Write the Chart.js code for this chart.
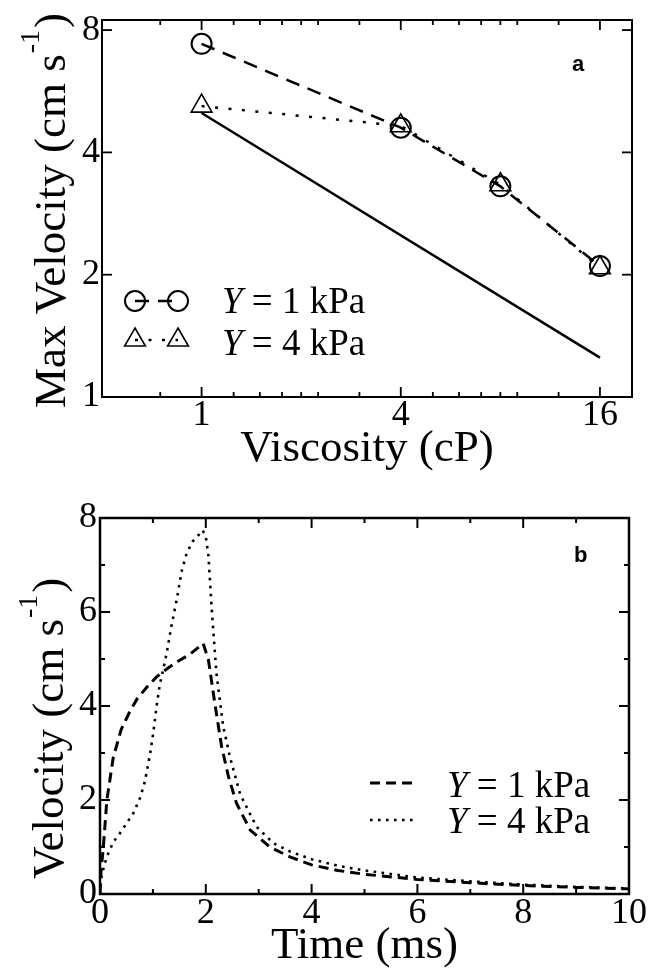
<!DOCTYPE html>
<html><head><meta charset="utf-8">
<script src="https://cdn.jsdelivr.net/npm/chart.js@4/dist/chart.umd.min.js"></script>
<style>
html,body{margin:0;padding:0;background:#fff;width:661px;height:969px;overflow:hidden}
canvas{position:absolute;left:0}
#c1{top:0;width:661px;height:480px}
#c2{top:480px;width:661px;height:489px}
</style></head><body>
<canvas id="c1" width="661" height="480"></canvas>
<canvas id="c2" width="661" height="489"></canvas>
<script>
// ---------- Panel a data ----------
const viscosity = [1, 4, 8, 16];
const maxVelY1 = [7.4, 4.6, 3.3, 2.1];
const maxVelY4 = [5.2, 4.65, 3.33, 2.08];
const scalingX = [1, 16];
const scalingY = [5.0, 1.25];
const seriesLabels = ['Y = 1 kPa', 'Y = 4 kPa'];
const topXMajor = [1, 4, 16];
const topXMinor = [0.75, 1.25, 1.5, 1.75, 2, 2.25, 3, 5, 6, 7, 8, 9, 12];
const topYMajor = [1, 2, 4, 8];

// ---------- Panel b data ----------
const timeY1 = [0, 0.02, 0.06, 0.13, 0.25, 0.4, 0.55, 0.7, 0.9, 1.07, 1.3, 1.5, 1.7, 1.95, 2.05, 2.17, 2.3, 2.43, 2.58, 2.84, 3.21, 3.59, 4.0, 4.5, 5.0, 6.0, 7.0, 8.0, 9.0, 10.0];
const velY1  = [0, 0.5, 0.95, 2.0, 2.9, 3.5, 3.85, 4.15, 4.42, 4.62, 4.82, 4.97, 5.1, 5.33, 4.98, 4.06, 3.13, 2.49, 1.93, 1.36, 1.0, 0.79, 0.62, 0.5, 0.42, 0.31, 0.24, 0.18, 0.14, 0.11];
const timeY4 = [0, 0.03, 0.13, 0.25, 0.38, 0.5, 0.63, 0.76, 0.85, 0.95, 1.01, 1.07, 1.13, 1.2, 1.26, 1.35, 1.45, 1.55, 1.64, 1.75, 1.85, 1.94, 2.0, 2.05, 2.11, 2.2, 2.33, 2.46, 2.65, 2.96, 3.28, 3.6, 4.0, 4.5, 5.0, 6.0, 7.0, 8.0, 9.0, 10.0];
const velY4  = [0, 0.4, 0.8, 1.1, 1.3, 1.5, 1.72, 2.05, 2.4, 3.0, 3.45, 4.0, 4.45, 4.8, 5.12, 5.7, 6.26, 6.9, 7.25, 7.5, 7.62, 7.74, 7.6, 7.2, 6.1, 4.7, 3.56, 2.9, 2.12, 1.43, 1.08, 0.9, 0.74, 0.6, 0.5, 0.35, 0.27, 0.2, 0.15, 0.12];
const botXMajor = [0, 2, 4, 6, 8, 10];
const botXMinor = [1, 3, 5, 7, 9];
const botYMajor = [0, 2, 4, 6, 8];
const botYMinor = [1, 3, 5, 7];

const SERIF = '"Liberation Serif", "Times New Roman", serif';
const SANS = '"Liberation Sans", Arial, sans-serif';

function line(ctx, x1, y1, x2, y2) { ctx.beginPath(); ctx.moveTo(x1, y1); ctx.lineTo(x2, y2); ctx.stroke(); }

function framePlugin(cfg) {
  return {
    id: 'frame_' + cfg.name,
    afterDraw(chart) {
      const { ctx, chartArea: a, scales: { x, y } } = chart;
      ctx.save();
      ctx.strokeStyle = '#000';
      ctx.setLineDash([]);
      ctx.lineWidth = cfg.tickWidth;
      const tk = (vals, len, sides) => {
        for (const v of vals) {
          if (sides === 'x') {
            const px = x.getPixelForValue(v);
            line(ctx, px, a.bottom, px, a.bottom - len);
            line(ctx, px, a.top, px, a.top + len);
          } else {
            const py = y.getPixelForValue(v);
            line(ctx, a.left, py, a.left + len, py);
            line(ctx, a.right, py, a.right - len, py);
          }
        }
      };
      tk(cfg.xMajor, 10, 'x'); tk(cfg.xMinor, 5, 'x');
      tk(cfg.yMajor, 10, 'y'); tk(cfg.yMinor, 5, 'y');
      ctx.lineWidth = cfg.frameWidth;
      ctx.strokeRect(a.left, a.top, a.right - a.left, a.bottom - a.top);
      // panel letter
      ctx.fillStyle = '#000';
      ctx.font = 'bold 22px ' + SANS;
      ctx.textBaseline = 'alphabetic';
      ctx.textAlign = 'left';
      ctx.fillText(cfg.letter, cfg.letterX, cfg.letterY);
      // y title with superscript
      ctx.save();
      ctx.translate(cfg.yTitleX, cfg.yTitleY);
      ctx.rotate(-Math.PI / 2);
      ctx.font = '45px ' + SERIF;
      ctx.fillText(cfg.yTitle[0], 0, 0);
      let w = ctx.measureText(cfg.yTitle[0]).width;
      ctx.font = '28px ' + SERIF;
      ctx.fillText(cfg.yTitle[1], w + 1, -26);
      w += ctx.measureText(cfg.yTitle[1]).width + 3;
      ctx.font = '45px ' + SERIF;
      ctx.fillText(cfg.yTitle[2], w, 0);
      ctx.restore();
      // legend
      chart.data.datasets.forEach((ds, i) => {
        if (!ds.inLegend) return;
        const row = cfg.legendRows[ds.legendIndex];
        ctx.save();
        ctx.strokeStyle = '#000';
        ctx.lineWidth = ds.borderWidth;
        ctx.setLineDash(ds.borderDash || []);
        line(ctx, cfg.legendX1, row.cy, cfg.legendX2, row.cy);
        ctx.setLineDash([]);
        if (ds.pointRadius > 0) {
          ctx.lineWidth = ds.pointBorderWidth;
          for (const mx of [cfg.legendX1, cfg.legendX2]) {
            ctx.beginPath();
            if (ds.pointStyle === 'triangle') {
              const r = ds.pointRadius;
              for (let k = 0; k < 3; k++) {
                const ang = k * 2 * Math.PI / 3;
                const px = mx + Math.sin(ang) * r, py = row.cy - Math.cos(ang) * r;
                if (k === 0) ctx.moveTo(px, py); else ctx.lineTo(px, py);
              }
              ctx.closePath();
            } else {
              ctx.arc(mx, row.cy, ds.pointRadius, 0, 2 * Math.PI);
            }
            ctx.stroke();
          }
        }
        const label = ds.label;
        ctx.fillStyle = '#000';
        ctx.font = 'italic 37px ' + SERIF;
        ctx.fillText(label[0], cfg.legendTextX, row.base);
        const wy = ctx.measureText(label[0]).width;
        ctx.font = '37px ' + SERIF;
        ctx.fillText(label.slice(1), cfg.legendTextX + wy, row.base);
        ctx.restore();
      });
      ctx.restore();
    }
  };
}

const tickFont = { family: SERIF, size: 36, lineHeight: 1 };
const titleFont = { family: SERIF, size: 45, lineHeight: 1 };

// ---------- Chart a ----------
new Chart(document.getElementById('c1'), {
  type: 'line',
  data: {
    datasets: [
      { label: 'scaling', data: scalingX.map((v, i) => ({ x: v, y: scalingY[i] })),
        borderColor: '#000', borderWidth: 2.5, pointRadius: 0, fill: false, inLegend: false },
      { label: seriesLabels[0], data: viscosity.map((v, i) => ({ x: v, y: maxVelY1[i] })),
        borderColor: '#000', borderWidth: 2.5, borderDash: [14, 9], pointStyle: 'circle', pointRadius: 10,
        pointBorderWidth: 2, pointBorderColor: '#000', pointBackgroundColor: 'rgba(0,0,0,0)', fill: false,
        inLegend: true, legendIndex: 0 },
      { label: seriesLabels[1], data: viscosity.map((v, i) => ({ x: v, y: maxVelY4[i] })),
        borderColor: '#000', borderWidth: 2.5, borderDash: [3, 10.5], pointStyle: 'triangle', pointRadius: 12,
        pointBorderWidth: 1.6, pointBorderColor: '#000', pointBackgroundColor: 'rgba(0,0,0,0)', fill: false,
        inLegend: true, legendIndex: 1 }
    ]
  },
  options: {
    responsive: false, animation: false, devicePixelRatio: 1,
    layout: { padding: { top: 19, right: 29, left: 0, bottom: 0 } },
    plugins: { legend: { display: false }, tooltip: { enabled: false } },
    elements: { line: { tension: 0 } },
    scales: {
      x: {
        type: 'logarithmic', min: 0.5, max: 20,
        afterBuildTicks: s => { s.ticks = topXMajor.map(v => ({ value: v })); },
        afterFit: s => { s.height = 83; },
        grid: { display: false, drawTicks: false }, border: { display: false },
        ticks: { callback: v => String(v), font: tickFont, color: '#000', padding: 1, maxRotation: 0, autoSkip: false },
        title: { display: true, text: 'Viscosity (cP)', font: titleFont, color: '#000', padding: { top: 0, bottom: 8 } }
      },
      y: {
        type: 'logarithmic', min: 1, max: 8.47,
        afterBuildTicks: s => { s.ticks = topYMajor.map(v => ({ value: v })); },
        afterFit: s => { s.width = 102; },
        grid: { display: false, drawTicks: false }, border: { display: false },
        ticks: { callback: v => String(v), font: tickFont, color: '#000', padding: 2, autoSkip: false }
      }
    }
  },
  plugins: [framePlugin({
    name: 'a', tickWidth: 1.8, frameWidth: 2,
    xMajor: topXMajor, xMinor: topXMinor, yMajor: topYMajor, yMinor: [],
    letter: 'a', letterX: 572, letterY: 71,
    yTitle: ['Max Velocity (cm s', '-1', ')'], yTitleX: 65, yTitleY: 408,
    legendX1: 135, legendX2: 178, legendTextX: 222,
    legendRows: [{ cy: 301, base: 313 }, { cy: 340, base: 355 }]
  })]
});

// ---------- Chart b ----------
new Chart(document.getElementById('c2'), {
  type: 'line',
  data: {
    datasets: [
      { label: seriesLabels[0], data: timeY1.map((t, i) => ({ x: t, y: velY1[i] })),
        borderColor: '#000', borderWidth: 3, borderDash: [10, 6], pointRadius: 0, fill: false,
        inLegend: true, legendIndex: 0 },
      { label: seriesLabels[1], data: timeY4.map((t, i) => ({ x: t, y: velY4[i] })),
        borderColor: '#000', borderWidth: 2.6, borderDash: [2.6, 5.4], pointRadius: 0, fill: false,
        inLegend: true, legendIndex: 1 }
    ]
  },
  options: {
    responsive: false, animation: false, devicePixelRatio: 1,
    layout: { padding: { top: 38, right: 32, left: 0, bottom: 0 } },
    plugins: { legend: { display: false }, tooltip: { enabled: false } },
    elements: { line: { tension: 0 } },
    scales: {
      x: {
        type: 'linear', min: 0, max: 10,
        afterBuildTicks: s => { s.ticks = botXMajor.map(v => ({ value: v })); },
        afterFit: s => { s.height = 75; },
        grid: { display: false, drawTicks: false }, border: { display: false },
        ticks: { callback: v => String(v), font: tickFont, color: '#000', padding: 2, maxRotation: 0, autoSkip: false },
        title: { display: true, text: 'Time (ms)', font: titleFont, color: '#000', padding: { top: 0, bottom: 0 } }
      },
      y: {
        type: 'linear', min: 0, max: 8,
        afterBuildTicks: s => { s.ticks = botYMajor.map(v => ({ value: v })); },
        afterFit: s => { s.width = 100; },
        grid: { display: false, drawTicks: false }, border: { display: false },
        ticks: { callback: v => String(v), font: tickFont, color: '#000', padding: 3, autoSkip: false }
      }
    }
  },
  plugins: [framePlugin({
    name: 'b', tickWidth: 2, frameWidth: 2.5,
    xMajor: botXMajor, xMinor: botXMinor, yMajor: botYMajor, yMinor: botYMinor,
    letter: 'b', letterX: 574, letterY: 82,
    yTitle: ['Velocity (cm s', '-1', ')'], yTitleX: 63, yTitleY: 399,
    legendX1: 370, legendX2: 415, legendTextX: 447,
    legendRows: [{ cy: 303, base: 317 }, { cy: 340, base: 353 }]
  })]
});
</script>
</body></html>
